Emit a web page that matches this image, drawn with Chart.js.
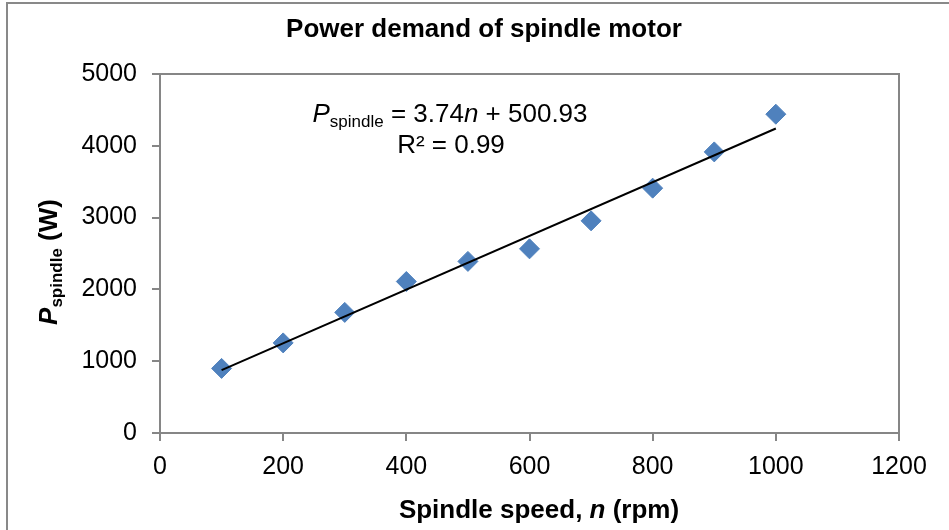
<!DOCTYPE html>
<html>
<head>
<meta charset="utf-8">
<script src="https://cdn.jsdelivr.net/npm/chart.js@4/dist/chart.umd.min.js"></script>
<style>
	html, body { margin: 0; padding: 0; background: #fff; }
	#wrap { width: 949px; height: 530px; }
</style>
</head>
<body>
<div id="wrap"><canvas id="chart" width="949" height="530"></canvas></div>
<script>
"use strict";

const speeds = [100, 200, 300, 400, 500, 600, 700, 800, 900, 1000];
const powers = [900, 1255, 1680, 2110, 2390, 2565, 2955, 3410, 3915, 4440];

// linear trendline as printed on the chart
const trendSlope = 3.74;
const trendIntercept = 500.93;
const trendRange = [100, 1000];

const xTickValues = [0, 200, 400, 600, 800, 1000, 1200];
const yTickValues = [0, 1000, 2000, 3000, 4000, 5000];

const FONT = "'Liberation Sans', Arial, sans-serif";
const AXIS_GREY = "#868686";

// draws a row of text pieces (different fonts / baselines) centred on x
function drawRuns(ctx, runs, x, y) {
	let total = 0;
	runs.forEach((run) => {
		ctx.font = run.font;
		run.w = ctx.measureText(run.text).width;
		total += run.w;
	});
	let cx = x - total / 2;
	ctx.textAlign = "left";
	ctx.textBaseline = "alphabetic";
	runs.forEach((run) => {
		ctx.font = run.font;
		ctx.fillText(run.text, cx, y + (run.dy || 0));
		cx += run.w;
	});
}

const textPlugin = {
	id: "textPlugin",
	beforeDatasetsDraw(chart) {
		const { ctx, chartArea } = chart;
		ctx.save();
		// plot area frame (top + right sides, the axes draw the rest)
		ctx.strokeStyle = AXIS_GREY;
		ctx.lineWidth = 2;
		ctx.strokeRect(chartArea.left, chartArea.top, chartArea.right - chartArea.left, chartArea.bottom - chartArea.top);
		ctx.restore();
	},
	afterDraw(chart) {
		const { ctx } = chart;
		ctx.save();
		ctx.fillStyle = "#000";

		// outer chart border
		ctx.strokeStyle = "#898989";
		ctx.lineWidth = 2;
		ctx.strokeRect(7, 3, 960, 560);

		// title
		drawRuns(ctx, [{ text: "Power demand of spindle motor", font: "bold 26px " + FONT }], 484, 37);

		// trendline equation
		drawRuns(ctx, [
			{ text: "P", font: "italic 26px " + FONT },
			{ text: "spindle", font: "17px " + FONT, dy: 5 },
			{ text: " = " + trendSlope.toFixed(2), font: "26px " + FONT },
			{ text: "n", font: "italic 26px " + FONT },
			{ text: " + " + trendIntercept.toFixed(2), font: "26px " + FONT },
		], 450, 122);
		drawRuns(ctx, [{ text: "R² = 0.99", font: "26px " + FONT }], 451, 153);

		// x axis title
		drawRuns(ctx, [
			{ text: "Spindle speed, ", font: "bold 26px " + FONT },
			{ text: "n", font: "italic bold 26px " + FONT },
			{ text: " (rpm)", font: "bold 26px " + FONT },
		], 539, 518);

		// y axis title, rotated
		ctx.translate(57, 262);
		ctx.rotate(-Math.PI / 2);
		drawRuns(ctx, [
			{ text: "P", font: "italic bold 26px " + FONT },
			{ text: "spindle", font: "bold 17px " + FONT, dy: 5 },
			{ text: " (W)", font: "bold 26px " + FONT },
		], 0, 0);
		ctx.restore();
	},
};

const trendPoints = trendRange.map((n) => ({ x: n, y: trendSlope * n + trendIntercept }));
const measured = speeds.map((n, i) => ({ x: n, y: powers[i] }));

new Chart(document.getElementById("chart"), {
	type: "scatter",
	data: {
		datasets: [
			{
				label: "trend",
				type: "line",
				data: trendPoints,
				borderColor: "#000",
				borderWidth: 2,
				pointRadius: 0,
				fill: false,
				order: 0,
			},
			{
				label: "P spindle",
				data: measured,
				pointStyle: "rectRot",
				pointRadius: 10,
				pointBackgroundColor: "#4F81BD",
				pointBorderColor: "#4F81BD",
				pointBorderWidth: 1,
				order: 1,
			},
		],
	},
	options: {
		responsive: false,
		animation: false,
		layout: { padding: { left: 0, right: 50, top: 74, bottom: 0 } },
		plugins: {
			legend: { display: false },
			tooltip: { enabled: false },
		},
		scales: {
			x: {
				type: "linear",
				min: xTickValues[0],
				max: xTickValues[xTickValues.length - 1],
				afterBuildTicks: (scale) => { scale.ticks = xTickValues.map((v) => ({ value: v })); },
				afterFit: (scale) => { scale.height = 97; },
				grid: { drawOnChartArea: false, drawTicks: true, tickLength: 8, tickColor: AXIS_GREY, lineWidth: 2 },
				border: { display: true, color: AXIS_GREY, width: 2 },
				ticks: { color: "#000", font: { family: FONT, size: 25 }, padding: 11, maxRotation: 0, callback: (v) => String(v) },
			},
			y: {
				type: "linear",
				min: yTickValues[0],
				max: yTickValues[yTickValues.length - 1],
				afterBuildTicks: (scale) => { scale.ticks = yTickValues.map((v) => ({ value: v })); },
				afterFit: (scale) => { scale.width = 160; },
				grid: { drawOnChartArea: false, drawTicks: true, tickLength: 8, tickColor: AXIS_GREY, lineWidth: 2 },
				border: { display: true, color: AXIS_GREY, width: 2 },
				ticks: { color: "#000", font: { family: FONT, size: 25 }, padding: 15, callback: (v) => String(v) },
			},
		},
	},
	plugins: [textPlugin],
});
</script>
</body>
</html>
